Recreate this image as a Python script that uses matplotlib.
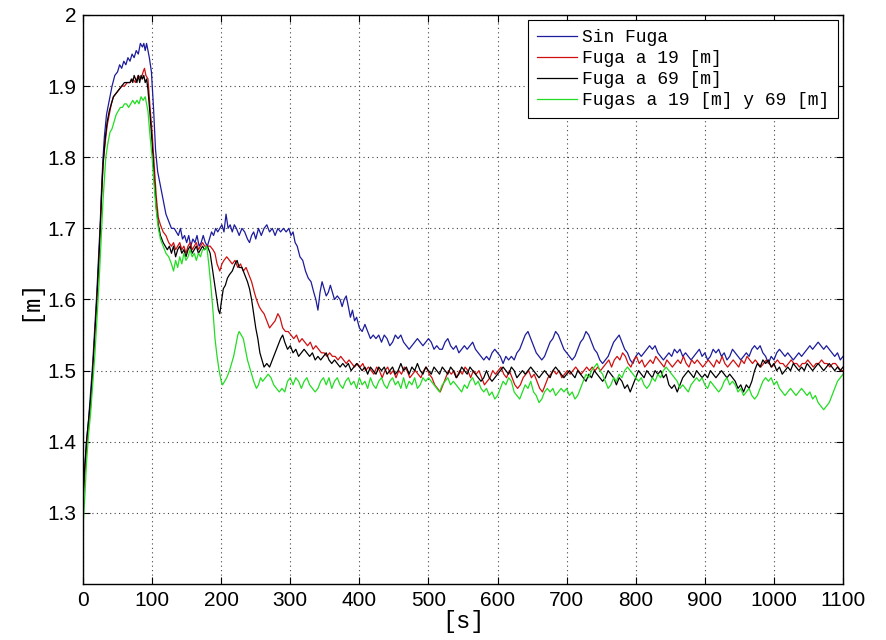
import matplotlib
matplotlib.use('Agg')
import matplotlib.pyplot as plt
import numpy as np

# niveles medidos [s, m]
sin_fuga = [(0,1.31),(3,1.37),(5,1.40),(8,1.43),(11,1.47),(14,1.51),(17,1.56),(20,1.61),(23,1.67),(25,1.71),(27,1.76),(29,1.80),(31,1.83),(34,1.86),(38,1.88),(42,1.90),(46,1.915),(50,1.92),(53,1.93),(56,1.925),(59,1.935),(62,1.93),(65,1.94),(68,1.935),(71,1.945),(74,1.94),(77,1.95),(80,1.945),(83,1.96),(86,1.955),(88,1.96),(90,1.95),(92,1.96),(94,1.95),(96,1.94),(99,1.92),(102,1.87),(105,1.81),(108,1.78),(112,1.76),(116,1.74),(120,1.72),(124,1.71),(128,1.70),(132,1.70),(135,1.695),(138,1.69),(141,1.70),(144,1.685),(147,1.69),(150,1.68),(153,1.69),(156,1.675),(159,1.685),(162,1.68),(165,1.69),(168,1.675),(171,1.68),(174,1.69),(177,1.68),(180,1.675),(183,1.685),(186,1.695),(189,1.69),(192,1.70),(195,1.695),(198,1.70),(201,1.705),(204,1.695),(207,1.72),(210,1.70),(213,1.705),(216,1.695),(219,1.705),(222,1.70),(226,1.69),(230,1.70),(234,1.695),(238,1.685),(241,1.68),(244,1.69),(247,1.695),(250,1.685),(254,1.70),(258,1.69),(262,1.70),(266,1.705),(270,1.695),(274,1.70),(278,1.69),(282,1.70),(286,1.695),(290,1.70),(294,1.695),(298,1.70),(301,1.69),(304,1.695),(307,1.68),(310,1.675),(314,1.66),(318,1.655),(322,1.64),(326,1.63),(330,1.625),(334,1.61),(337,1.60),(340,1.585),(343,1.61),(346,1.625),(349,1.615),(352,1.605),(355,1.61),(358,1.62),(361,1.61),(364,1.60),(368,1.605),(372,1.60),(375,1.59),(378,1.60),(381,1.605),(384,1.59),(387,1.575),(390,1.585),(393,1.57),(396,1.575),(400,1.56),(404,1.555),(408,1.565),(412,1.555),(416,1.545),(420,1.55),(424,1.545),(428,1.55),(432,1.54),(436,1.55),(440,1.545),(444,1.535),(448,1.54),(452,1.55),(456,1.545),(460,1.55),(464,1.54),(468,1.535),(472,1.53),(476,1.535),(480,1.54),(484,1.545),(488,1.54),(492,1.535),(496,1.54),(500,1.545),(504,1.54),(508,1.53),(512,1.535),(516,1.53),(520,1.53),(524,1.54),(528,1.545),(532,1.535),(536,1.53),(540,1.535),(544,1.525),(548,1.53),(552,1.535),(556,1.53),(560,1.535),(564,1.54),(568,1.53),(572,1.525),(576,1.52),(580,1.515),(584,1.52),(588,1.515),(592,1.525),(596,1.53),(600,1.525),(604,1.52),(608,1.51),(612,1.52),(616,1.515),(620,1.52),(624,1.515),(628,1.525),(632,1.53),(636,1.54),(640,1.55),(644,1.555),(648,1.545),(652,1.535),(656,1.525),(660,1.52),(664,1.515),(668,1.52),(672,1.53),(676,1.54),(680,1.545),(684,1.555),(688,1.55),(692,1.54),(696,1.53),(700,1.525),(704,1.52),(708,1.515),(712,1.52),(716,1.53),(720,1.54),(724,1.545),(728,1.555),(732,1.55),(736,1.54),(740,1.53),(744,1.525),(748,1.515),(752,1.51),(756,1.515),(760,1.52),(764,1.53),(768,1.54),(772,1.545),(776,1.55),(780,1.54),(784,1.53),(788,1.525),(792,1.515),(796,1.51),(800,1.52),(804,1.525),(808,1.52),(812,1.525),(816,1.53),(820,1.535),(824,1.53),(828,1.535),(832,1.525),(836,1.52),(840,1.515),(844,1.52),(848,1.525),(852,1.52),(856,1.53),(860,1.525),(864,1.53),(868,1.52),(872,1.525),(876,1.52),(880,1.515),(884,1.52),(888,1.525),(892,1.53),(896,1.52),(900,1.525),(904,1.515),(908,1.52),(912,1.53),(916,1.525),(920,1.53),(924,1.52),(928,1.525),(932,1.515),(936,1.52),(940,1.53),(944,1.525),(948,1.52),(952,1.515),(956,1.52),(960,1.525),(964,1.52),(968,1.53),(972,1.535),(976,1.53),(980,1.535),(984,1.525),(988,1.52),(992,1.51),(996,1.52),(1000,1.515),(1004,1.525),(1008,1.53),(1012,1.525),(1016,1.52),(1020,1.525),(1024,1.52),(1028,1.515),(1032,1.52),(1036,1.525),(1040,1.52),(1044,1.525),(1048,1.53),(1052,1.535),(1056,1.53),(1060,1.535),(1064,1.54),(1068,1.535),(1072,1.53),(1076,1.535),(1080,1.53),(1084,1.525),(1088,1.52),(1092,1.525),(1096,1.515),(1100,1.52)]

fuga_19 = [(0,1.32),(3,1.36),(5,1.39),(8,1.42),(11,1.45),(14,1.50),(17,1.55),(20,1.60),(23,1.65),(25,1.70),(27,1.75),(29,1.79),(32,1.82),(35,1.845),(38,1.86),(41,1.875),(44,1.885),(48,1.89),(52,1.895),(56,1.90),(60,1.90),(64,1.905),(68,1.905),(72,1.91),(76,1.905),(80,1.915),(84,1.91),(87,1.92),(89,1.925),(91,1.915),(94,1.91),(97,1.87),(100,1.835),(103,1.79),(106,1.745),(109,1.715),(112,1.705),(116,1.695),(120,1.69),(124,1.68),(128,1.675),(131,1.68),(134,1.67),(137,1.675),(140,1.68),(143,1.67),(146,1.675),(149,1.665),(152,1.675),(155,1.68),(158,1.67),(161,1.675),(164,1.68),(167,1.67),(170,1.675),(173,1.68),(176,1.675),(180,1.675),(184,1.675),(188,1.67),(191,1.665),(194,1.65),(198,1.64),(201,1.65),(204,1.655),(208,1.66),(212,1.655),(216,1.65),(220,1.655),(224,1.645),(228,1.65),(232,1.64),(236,1.645),(240,1.635),(244,1.625),(248,1.61),(251,1.60),(255,1.59),(258,1.585),(262,1.58),(266,1.57),(270,1.56),(274,1.565),(278,1.57),(282,1.58),(285,1.575),(289,1.56),(293,1.555),(297,1.555),(301,1.55),(305,1.545),(309,1.55),(313,1.54),(317,1.545),(321,1.54),(325,1.535),(329,1.54),(333,1.53),(337,1.535),(341,1.53),(345,1.525),(349,1.525),(353,1.52),(357,1.525),(361,1.52),(365,1.52),(369,1.515),(373,1.52),(377,1.515),(381,1.51),(385,1.515),(389,1.51),(393,1.505),(397,1.51),(401,1.505),(405,1.51),(409,1.50),(413,1.505),(417,1.50),(421,1.495),(425,1.505),(429,1.50),(433,1.49),(437,1.50),(441,1.505),(445,1.495),(449,1.50),(453,1.49),(457,1.50),(461,1.495),(465,1.505),(469,1.50),(473,1.49),(477,1.495),(481,1.50),(485,1.495),(489,1.49),(493,1.50),(497,1.505),(501,1.495),(505,1.49),(509,1.48),(513,1.475),(517,1.47),(521,1.48),(525,1.49),(529,1.50),(533,1.495),(537,1.50),(541,1.49),(545,1.50),(549,1.495),(553,1.505),(557,1.50),(561,1.49),(565,1.50),(569,1.495),(573,1.50),(577,1.49),(581,1.48),(585,1.485),(589,1.49),(593,1.50),(597,1.495),(601,1.50),(605,1.505),(609,1.495),(613,1.49),(617,1.50),(621,1.49),(625,1.48),(629,1.475),(633,1.48),(637,1.49),(641,1.495),(645,1.50),(649,1.49),(653,1.495),(657,1.485),(661,1.475),(665,1.47),(669,1.48),(673,1.49),(677,1.495),(681,1.50),(685,1.495),(689,1.50),(693,1.49),(697,1.495),(701,1.50),(705,1.495),(709,1.50),(713,1.505),(717,1.50),(721,1.495),(725,1.50),(729,1.505),(733,1.50),(737,1.505),(741,1.50),(745,1.505),(749,1.50),(753,1.505),(757,1.51),(761,1.515),(765,1.505),(769,1.515),(773,1.52),(777,1.515),(781,1.525),(785,1.52),(789,1.51),(793,1.505),(797,1.515),(801,1.52),(805,1.51),(809,1.515),(813,1.505),(817,1.51),(821,1.515),(825,1.51),(829,1.52),(833,1.515),(837,1.51),(841,1.505),(845,1.515),(849,1.51),(853,1.505),(857,1.51),(861,1.515),(865,1.51),(869,1.52),(873,1.51),(877,1.505),(881,1.515),(885,1.51),(889,1.515),(893,1.51),(897,1.505),(901,1.51),(905,1.515),(909,1.51),(913,1.505),(917,1.515),(921,1.51),(925,1.52),(929,1.51),(933,1.505),(937,1.51),(941,1.515),(945,1.51),(949,1.505),(953,1.515),(957,1.51),(961,1.52),(965,1.515),(969,1.51),(973,1.515),(977,1.51),(981,1.505),(985,1.51),(989,1.515),(993,1.51),(997,1.505),(1001,1.51),(1005,1.515),(1009,1.51),(1013,1.51),(1017,1.505),(1021,1.51),(1025,1.515),(1029,1.51),(1033,1.51),(1037,1.505),(1041,1.51),(1045,1.51),(1049,1.515),(1053,1.51),(1057,1.505),(1061,1.51),(1065,1.51),(1069,1.515),(1073,1.51),(1077,1.51),(1081,1.505),(1085,1.51),(1089,1.51),(1093,1.505),(1097,1.50),(1100,1.50)]

fuga_69 = [(0,1.33),(3,1.37),(5,1.40),(8,1.43),(11,1.46),(14,1.50),(17,1.55),(20,1.60),(23,1.66),(25,1.70),(27,1.75),(29,1.79),(32,1.825),(35,1.85),(38,1.865),(41,1.875),(44,1.885),(48,1.89),(52,1.895),(56,1.90),(60,1.905),(64,1.905),(68,1.905),(70,1.91),(72,1.905),(74,1.915),(76,1.91),(78,1.905),(80,1.915),(82,1.905),(84,1.915),(86,1.91),(88,1.915),(90,1.905),(92,1.91),(94,1.895),(97,1.86),(100,1.82),(103,1.77),(106,1.73),(109,1.705),(112,1.69),(116,1.68),(119,1.675),(122,1.67),(125,1.675),(128,1.665),(131,1.675),(134,1.66),(137,1.67),(140,1.675),(143,1.665),(146,1.67),(149,1.66),(152,1.67),(155,1.675),(158,1.665),(161,1.67),(164,1.675),(167,1.665),(170,1.67),(173,1.675),(176,1.67),(180,1.675),(184,1.665),(187,1.645),(190,1.625),(193,1.605),(196,1.585),(198,1.58),(200,1.595),(203,1.615),(206,1.62),(209,1.63),(212,1.635),(216,1.64),(220,1.65),(223,1.655),(226,1.645),(230,1.645),(234,1.635),(238,1.625),(241,1.615),(244,1.60),(247,1.58),(250,1.56),(253,1.545),(256,1.525),(259,1.515),(262,1.505),(266,1.51),(270,1.505),(274,1.515),(278,1.525),(282,1.535),(286,1.545),(289,1.55),(292,1.54),(296,1.53),(300,1.535),(304,1.525),(308,1.53),(312,1.52),(316,1.525),(320,1.53),(324,1.525),(328,1.52),(332,1.525),(336,1.515),(340,1.52),(344,1.515),(348,1.52),(352,1.525),(356,1.515),(360,1.51),(364,1.515),(368,1.51),(372,1.505),(376,1.51),(380,1.505),(384,1.51),(388,1.50),(392,1.505),(396,1.51),(400,1.505),(404,1.50),(408,1.505),(412,1.495),(416,1.505),(420,1.50),(424,1.495),(428,1.505),(432,1.50),(436,1.505),(440,1.495),(444,1.50),(448,1.505),(452,1.495),(456,1.50),(460,1.51),(464,1.50),(468,1.505),(472,1.495),(476,1.505),(480,1.50),(484,1.51),(488,1.50),(492,1.495),(496,1.505),(500,1.50),(504,1.495),(508,1.505),(512,1.50),(516,1.495),(520,1.505),(524,1.50),(528,1.495),(532,1.505),(536,1.50),(540,1.49),(544,1.495),(548,1.505),(552,1.50),(556,1.495),(560,1.505),(564,1.50),(568,1.495),(572,1.49),(576,1.485),(580,1.49),(584,1.50),(588,1.49),(592,1.485),(596,1.49),(600,1.495),(604,1.50),(608,1.505),(612,1.50),(616,1.495),(620,1.505),(624,1.50),(628,1.49),(632,1.495),(636,1.50),(640,1.495),(644,1.50),(648,1.505),(652,1.50),(656,1.495),(660,1.49),(664,1.495),(668,1.50),(672,1.495),(676,1.49),(680,1.50),(684,1.505),(688,1.50),(692,1.495),(696,1.49),(700,1.495),(704,1.50),(708,1.495),(712,1.49),(716,1.50),(720,1.495),(724,1.49),(728,1.485),(732,1.495),(736,1.49),(740,1.50),(744,1.495),(748,1.49),(752,1.485),(756,1.49),(760,1.50),(764,1.495),(768,1.49),(772,1.48),(776,1.49),(780,1.485),(784,1.475),(788,1.48),(792,1.47),(796,1.48),(800,1.49),(804,1.50),(808,1.495),(812,1.49),(816,1.50),(820,1.495),(824,1.49),(828,1.50),(832,1.495),(836,1.50),(840,1.49),(844,1.495),(848,1.48),(852,1.475),(856,1.48),(860,1.47),(864,1.48),(868,1.49),(872,1.495),(876,1.50),(880,1.495),(884,1.49),(888,1.50),(892,1.495),(896,1.49),(900,1.495),(904,1.49),(908,1.50),(912,1.495),(916,1.49),(920,1.495),(924,1.50),(928,1.495),(932,1.49),(936,1.495),(940,1.49),(944,1.485),(948,1.475),(952,1.48),(956,1.47),(960,1.48),(964,1.475),(968,1.485),(972,1.50),(976,1.51),(980,1.505),(984,1.515),(988,1.51),(992,1.515),(996,1.505),(1000,1.51),(1004,1.50),(1008,1.505),(1012,1.495),(1016,1.50),(1020,1.505),(1024,1.50),(1028,1.51),(1032,1.505),(1036,1.50),(1040,1.505),(1044,1.50),(1048,1.51),(1052,1.505),(1056,1.50),(1060,1.505),(1064,1.51),(1068,1.505),(1072,1.50),(1076,1.505),(1080,1.51),(1084,1.505),(1088,1.50),(1092,1.505),(1096,1.50),(1100,1.505)]

fugas_19_69 = [(0,1.28),(3,1.33),(5,1.37),(8,1.41),(11,1.44),(14,1.48),(17,1.52),(20,1.57),(23,1.62),(25,1.66),(27,1.70),(29,1.74),(31,1.77),(33,1.80),(36,1.82),(39,1.835),(42,1.84),(45,1.85),(48,1.86),(51,1.865),(54,1.87),(57,1.87),(60,1.875),(63,1.875),(66,1.87),(69,1.875),(72,1.88),(75,1.875),(78,1.88),(81,1.875),(84,1.885),(87,1.88),(90,1.885),(92,1.875),(94,1.865),(97,1.83),(100,1.80),(103,1.76),(106,1.725),(109,1.70),(112,1.685),(116,1.675),(120,1.665),(124,1.66),(128,1.65),(131,1.64),(134,1.655),(137,1.645),(140,1.66),(143,1.65),(146,1.665),(149,1.655),(152,1.66),(155,1.67),(158,1.66),(161,1.665),(164,1.655),(167,1.665),(170,1.66),(173,1.67),(176,1.67),(179,1.675),(182,1.65),(185,1.62),(188,1.585),(191,1.545),(194,1.52),(197,1.50),(200,1.485),(202,1.48),(205,1.485),(208,1.49),(212,1.50),(215,1.51),(218,1.52),(221,1.535),(224,1.55),(226,1.555),(229,1.55),(232,1.545),(235,1.53),(238,1.515),(241,1.505),(244,1.495),(247,1.485),(251,1.475),(254,1.48),(257,1.49),(260,1.485),(264,1.49),(268,1.495),(272,1.49),(276,1.48),(280,1.475),(284,1.47),(288,1.475),(292,1.47),(296,1.485),(300,1.49),(304,1.48),(308,1.49),(312,1.485),(316,1.475),(320,1.485),(324,1.49),(328,1.48),(332,1.475),(336,1.47),(340,1.475),(344,1.485),(348,1.49),(352,1.48),(356,1.49),(360,1.475),(364,1.485),(368,1.49),(372,1.48),(376,1.475),(380,1.485),(384,1.49),(388,1.48),(392,1.485),(396,1.475),(400,1.49),(404,1.48),(408,1.485),(412,1.475),(416,1.49),(420,1.48),(424,1.475),(428,1.485),(432,1.49),(436,1.48),(440,1.475),(444,1.485),(448,1.49),(452,1.48),(456,1.485),(460,1.475),(464,1.49),(468,1.475),(472,1.485),(476,1.48),(480,1.49),(484,1.475),(488,1.48),(492,1.49),(496,1.485),(500,1.49),(504,1.485),(508,1.48),(512,1.475),(516,1.47),(520,1.48),(524,1.485),(528,1.49),(532,1.48),(536,1.485),(540,1.48),(544,1.475),(548,1.47),(552,1.48),(556,1.475),(560,1.485),(564,1.49),(568,1.48),(572,1.485),(576,1.475),(580,1.47),(584,1.475),(588,1.465),(592,1.47),(596,1.46),(600,1.465),(604,1.475),(608,1.485),(612,1.48),(616,1.49),(620,1.485),(624,1.47),(628,1.465),(632,1.46),(636,1.47),(640,1.48),(644,1.475),(648,1.485),(652,1.47),(656,1.465),(660,1.455),(664,1.46),(668,1.47),(672,1.475),(676,1.47),(680,1.475),(684,1.465),(688,1.47),(692,1.475),(696,1.47),(700,1.475),(704,1.465),(708,1.47),(712,1.46),(716,1.465),(720,1.475),(724,1.485),(728,1.495),(732,1.49),(736,1.50),(740,1.505),(744,1.51),(748,1.50),(752,1.495),(756,1.485),(760,1.475),(764,1.48),(768,1.49),(772,1.485),(776,1.495),(780,1.49),(784,1.50),(788,1.505),(792,1.50),(796,1.495),(800,1.49),(804,1.485),(808,1.49),(812,1.48),(816,1.475),(820,1.48),(824,1.49),(828,1.485),(832,1.495),(836,1.49),(840,1.50),(844,1.505),(848,1.50),(852,1.495),(856,1.49),(860,1.485),(864,1.475),(868,1.48),(872,1.475),(876,1.47),(880,1.48),(884,1.485),(888,1.49),(892,1.485),(896,1.49),(900,1.48),(904,1.475),(908,1.485),(912,1.48),(916,1.475),(920,1.47),(924,1.475),(928,1.485),(932,1.49),(936,1.48),(940,1.485),(944,1.48),(948,1.47),(952,1.475),(956,1.465),(960,1.47),(964,1.475),(968,1.465),(972,1.46),(976,1.465),(980,1.475),(984,1.485),(988,1.49),(992,1.485),(996,1.49),(1000,1.48),(1004,1.485),(1008,1.475),(1012,1.47),(1016,1.465),(1020,1.47),(1024,1.475),(1028,1.47),(1032,1.465),(1036,1.47),(1040,1.475),(1044,1.47),(1048,1.465),(1052,1.47),(1056,1.46),(1060,1.465),(1064,1.455),(1068,1.45),(1072,1.445),(1076,1.45),(1080,1.455),(1084,1.465),(1088,1.475),(1092,1.485),(1096,1.49),(1100,1.495)]

etiquetas = ['Sin Fuga', 'Fuga a 19 [m]', 'Fuga a 69 [m]', 'Fugas a 19 [m] y 69 [m]']
colores = ['#1c1c9c', '#d01010', '#000000', '#22dd22']
xticks = np.arange(0, 1101, 100)
yticks = [1.3, 1.4, 1.5, 1.6, 1.7, 1.8, 1.9, 2.0]
ytick_labels = ['1.3', '1.4', '1.5', '1.6', '1.7', '1.8', '1.9', '2']

tick_font = ['Liberation Sans', 'DejaVu Sans']
mono_font = ['Liberation Mono', 'DejaVu Sans Mono']

fig = plt.figure(figsize=(8.86, 6.40), dpi=100)
ax = fig.add_axes([0.0937, 0.0875, 0.8578, 0.8891])

for serie, lab, col in zip([sin_fuga, fuga_19, fuga_69, fugas_19_69], etiquetas, colores):
    t, h = np.array(serie).T
    ax.plot(t, h, color=col, linewidth=0.9, label=lab)

ax.set_xlim(0, 1100)
ax.set_ylim(1.2, 2.0)
ax.set_xticks(xticks)
ax.set_yticks(yticks)
ax.set_yticklabels(ytick_labels)
ax.tick_params(direction='in', top=True, right=True, length=5, width=0.8, pad=5)
for lbl in ax.get_xticklabels() + ax.get_yticklabels():
    lbl.set_family(tick_font)
    lbl.set_fontsize(15)
ax.grid(True, linestyle=(0, (1, 3)), color='#444444', linewidth=0.8)
for s in ax.spines.values():
    s.set_linewidth(1.0)

ax.set_xlabel('[s]', family=mono_font, fontsize=17, labelpad=0)
ax.set_ylabel('[m]', family=mono_font, fontsize=17, labelpad=4)

leg = ax.legend(loc='upper right', prop={'family': mono_font, 'size': 13},
                fancybox=False, edgecolor='black', framealpha=1,
                handlelength=2.2, handletextpad=0.25, labelspacing=0.22,
                borderpad=0.5, borderaxespad=0.28)
leg.get_frame().set_linewidth(0.8)

fig.savefig('out.png', dpi=100)
